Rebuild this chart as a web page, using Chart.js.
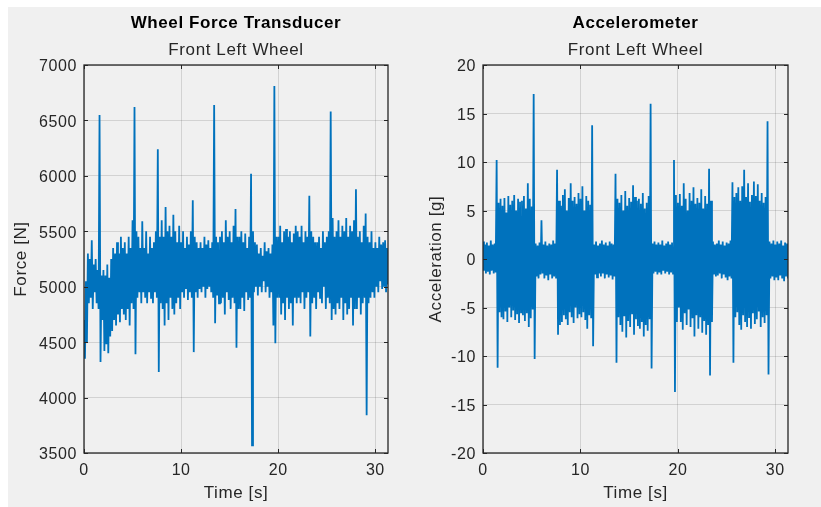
<!DOCTYPE html>
<html>
<head>
<meta charset="utf-8">
<script src="https://cdn.jsdelivr.net/npm/chart.js@4"></script>
<style>
  html, body { margin: 0; padding: 0; background: #ffffff; }
  #fig { position: absolute; left: 8px; top: 7px; width: 813px; height: 500px; background: #f0f0f0; }
  canvas { position: absolute; top: 0; }
</style>
</head>
<body>
<div id="fig"></div>
<canvas id="forceChart" width="410" height="507" style="left:0"></canvas>
<canvas id="accelChart" width="411" height="507" style="left:410px"></canvas>
<script>
// time axis (s) and tick labels
const timeMax = 31.3;
const timeTicks = [0, 10, 20, 30];
const forceTicks = [3500, 4000, 4500, 5000, 5500, 6000, 6500, 7000];
const accelTicks = [-20, -15, -10, -5, 0, 5, 10, 15, 20];

// signal: one high and one low value every 0.2 s
// high at t = 0.2*i, low at t = 0.2*i + 0.1
const forceHigh = [
  4700, 5050, 5300, 5250, 5420, 5200, 5250, 5150, 6550, 5100,
  5150, 5100, 5200, 5080, 5250, 5350, 5300, 5400, 5300, 5450,
  5350, 5400, 5300, 5450, 5350, 5600, 6620, 5500, 5450, 5350,
  5590, 5350, 5500, 5300, 5450, 5350, 5400, 5500, 6240, 5450,
  5600, 5450, 5720, 5500, 5550, 5450, 5650, 5500, 5400, 5550,
  5400, 5500, 5350, 5450, 5380, 5500, 5780, 5450, 5400, 5350,
  5400, 5350, 5450, 5380, 5420, 5350, 5400, 6640, 5450, 5400,
  5450, 5500, 5400, 5600, 5450, 5500, 5400, 5550, 5700, 5450,
  5450, 5500, 5400, 5480, 5350, 5450, 6020, 5500, 5400, 5380,
  5300, 5350, 5280, 5400, 5320, 5350, 5300, 5380, 6810, 5450,
  5450, 5550, 5400, 5500, 5520, 5450, 5500, 5400, 5480, 5550,
  5500, 5450, 5550, 5400, 5500, 5450, 5820, 5500, 5450, 5400,
  5400, 5450, 5350, 5500, 5400, 5450, 5500, 6580, 5620, 5450,
  5500, 5600, 5450, 5550, 5500, 5620, 5450, 5550, 5500, 5600,
  5880, 5450, 5500, 5400, 5550, 5660, 5450, 5400, 5500, 5350,
  5400, 5350, 5450, 5380, 5400, 5420, 5350
];
const forceLow = [
  4350, 4500, 4850, 4900, 4800, 4950, 4850, 4800, 4320, 4700,
  4420, 4480, 4400, 4550, 4600, 4700, 4650, 4750, 4680, 4800,
  4750, 4700, 4800, 4650, 4850, 4800, 4390, 4900, 4950, 4850,
  4950, 4900, 4850, 4950, 4900, 4850, 4950, 4900, 4230, 4850,
  4800, 4650, 4850, 4700, 4900, 4800, 4750, 4850, 4900, 4800,
  4950, 4900, 4980, 4880, 4950, 4900, 4410, 4950, 4900, 4980,
  4950, 5000, 4900, 4980, 5000, 4950, 4900, 4670, 4920, 4850,
  4850, 4900, 4750, 4950, 4880, 4800, 4900, 4850, 4450, 4800,
  4800, 4900, 4780, 4950, 4880, 4900, 3570, 4950, 5000, 4920,
  5000, 4950, 5050, 4950, 5000, 4900, 4950, 4650, 4490, 4900,
  4900, 4750, 4850, 4700, 4900, 4800, 4850, 4650, 4900, 4850,
  4900, 4850, 4950, 4800, 4900, 4950, 4550, 4850, 4900, 4800,
  4950, 4900, 4850, 5000, 4800, 4900, 4850, 4700, 4800, 4750,
  4850, 4800, 4900, 4700, 4850, 4750, 4800, 4900, 4650, 4800,
  4800, 4900, 4750, 4850, 4900, 3840, 4850, 4900, 4950, 4900,
  5000, 4950, 5050, 4980, 5000, 4950, 5020
];
const accelHigh = [
  1.8, 1.5, 1.7, 1.4, 1.9, 1.5, 1.6, 10.2, 5.8, 6.2,
  5.5, 6.3, 4.8, 6.5, 5.6, 6.0, 6.6, 5.0, 6.2, 5.9,
  6.0, 6.5, 5.2, 7.8, 6.2, 5.4, 17.0, 1.6, 1.4, 1.7,
  4.0, 1.5, 1.8, 1.4, 1.6, 1.5, 1.9, 1.6, 9.2, 6.0,
  5.5, 6.6, 7.2, 5.0, 6.3, 7.8, 6.0, 6.4, 5.7, 6.8,
  6.2, 7.5, 5.0, 6.5, 6.0, 5.6, 13.8, 1.5, 1.8, 1.4,
  1.6, 1.9, 1.5, 1.7, 1.4, 1.8, 1.6, 1.5, 8.8, 6.2,
  5.8, 6.6, 5.0, 7.0, 5.5, 6.3, 5.9, 7.6, 6.4, 6.0,
  6.2, 5.7, 6.8, 5.2, 5.8, 6.5, 16.0, 1.6, 1.8, 1.5,
  1.7, 1.5, 1.9, 1.4, 1.6, 1.8, 1.5, 1.7, 10.2, 6.6,
  5.8, 6.7, 5.5, 7.8, 6.2, 5.0, 6.8, 6.0, 7.4, 5.7,
  6.3, 5.8, 7.2, 5.2, 6.5, 5.7, 9.3, 6.0, 1.8, 1.5,
  1.6, 1.9, 1.5, 1.8, 1.4, 1.7, 1.6, 1.9, 7.9, 6.4,
  6.8, 7.4, 6.0, 7.5, 9.2, 6.4, 7.8, 5.9, 6.6, 8.0,
  6.5, 7.7, 6.0, 6.8, 5.8, 6.4, 14.2, 1.8, 1.6, 1.9,
  1.5, 1.8, 1.6, 1.9, 1.4, 1.7, 1.6
];
const accelLow = [
  -1.2, -1.5, -1.3, -1.6, -1.2, -1.5, -1.4, -11.2, -5.5, -6.0,
  -6.2, -5.4, -6.5, -5.0, -6.0, -5.3, -6.3, -5.7, -6.6, -5.5,
  -5.8, -6.4, -5.6, -7.0, -6.1, -5.2, -10.3, -1.8, -2.0, -1.6,
  -1.5, -2.0, -1.7, -2.2, -1.6, -2.0, -1.8, -2.0, -7.8, -6.8,
  -6.5, -5.8, -6.2, -6.8, -5.5, -6.0, -6.6, -5.0, -6.1, -5.7,
  -6.0, -5.5, -6.3, -7.2, -5.8, -6.1, -9.0, -1.6, -1.9, -1.5,
  -1.8, -1.5, -2.0, -1.6, -1.9, -1.7, -2.1, -1.8, -10.7, -6.0,
  -6.8, -7.5, -5.9, -8.1, -6.4, -7.0, -5.7, -7.8, -6.2, -6.9,
  -7.2, -6.5, -8.0, -6.8, -7.4, -6.2, -11.3, -1.5, -1.3, -1.6,
  -1.4, -1.6, -1.2, -1.5, -1.3, -1.6, -1.4, -1.5, -13.7, -6.5,
  -5.0, -6.5, -7.3, -5.6, -6.8, -5.2, -7.0, -6.1, -8.0, -5.8,
  -7.2, -6.0, -7.6, -6.4, -7.8, -6.8, -12.0, -6.5, -1.6, -1.8,
  -1.7, -1.5, -2.0, -1.6, -1.9, -2.2, -1.8, -2.0, -10.7, -6.0,
  -5.5, -6.8, -7.3, -5.8, -6.5, -7.0, -6.0, -7.2, -5.6, -6.7,
  -6.2, -5.4, -7.0, -6.0, -6.6, -5.8, -11.9, -2.0, -1.8, -2.2,
  -1.9, -2.2, -1.7, -2.0, -2.3, -1.8, -2.0
];

const sampleStep = 0.1;
const lineColor = '#0072BD';
const axisColor = '#262626';
const fontFamily = '"Liberation Sans", Arial, Helvetica, sans-serif';

// interleave high / low readings into one trace
function buildTrace(high, low) {
  let pts = [];
  for (let i = 0; i < high.length; i++) {
    pts.push({ x: 2 * i * sampleStep, y: high[i] });
    pts.push({ x: (2 * i + 1) * sampleStep, y: low[i] });
  }
  return pts;
}

// MATLAB style box, inward ticks and two-line title
const matlabAxes = {
  id: 'matlabAxes',
  beforeDraw(chart) {
    chart.ctx.letterSpacing = '0.6px';
  },
  afterDraw(chart) {
    const ctx = chart.ctx;
    const a = chart.chartArea;
    const xs = chart.scales.x, ys = chart.scales.y;
    ctx.save();
    ctx.strokeStyle = axisColor;
    ctx.lineWidth = 1;
    ctx.beginPath();
    xs.ticks.forEach(t => {
      const px = Math.round(xs.getPixelForValue(t.value)) + 0.5;
      ctx.moveTo(px, a.bottom); ctx.lineTo(px, a.bottom - 4);
      ctx.moveTo(px, a.top); ctx.lineTo(px, a.top + 4);
    });
    ys.ticks.forEach(t => {
      const py = Math.round(ys.getPixelForValue(t.value)) + 0.5;
      ctx.moveTo(a.left, py); ctx.lineTo(a.left + 4, py);
      ctx.moveTo(a.right, py); ctx.lineTo(a.right - 4, py);
    });
    ctx.stroke();
    ctx.lineWidth = 1.3;
    ctx.strokeRect(a.left, a.top, a.right - a.left, a.bottom - a.top);

    const cx = (a.left + a.right) / 2;
    const titles = chart.options.plugins.matlabAxes;
    ctx.letterSpacing = '0.6px';
    ctx.textAlign = 'center';
    ctx.textBaseline = 'alphabetic';
    ctx.fillStyle = '#000000';
    ctx.font = 'bold 17px ' + fontFamily;
    ctx.fillText(titles.title, cx, 28);
    ctx.fillStyle = axisColor;
    ctx.font = '17px ' + fontFamily;
    ctx.fillText(titles.subtitle, cx, 55);
    ctx.restore();
  }
};

function makeChart(id, high, low, yMin, yMax, yTickList, yTitle, title, axisW, padRight, yTitlePad) {
  const ctx = document.getElementById(id).getContext('2d');
  return new Chart(ctx, {
    type: 'line',
    data: {
      datasets: [{
        data: buildTrace(high, low),
        borderColor: lineColor,
        borderWidth: 1.8,
        pointRadius: 0,
        tension: 0,
        fill: false
      }]
    },
    options: {
      responsive: false,
      animation: false,
      layout: { padding: { top: 65, right: padRight, bottom: 0, left: 0 } },
      plugins: {
        legend: { display: false },
        tooltip: { enabled: false },
        matlabAxes: { title: title, subtitle: 'Front Left Wheel' }
      },
      scales: {
        x: {
          type: 'linear',
          min: 0,
          max: timeMax,
          afterFit(scale) { scale.height = 54; },
          afterBuildTicks(scale) { scale.ticks = timeTicks.map(v => ({ value: v })); },
          grid: { color: 'rgba(38,38,38,0.15)', drawTicks: false },
          border: { display: false },
          ticks: {
            color: axisColor, padding: 8,
            font: { family: fontFamily, size: 16 },
            maxRotation: 0,
            callback: v => String(v)
          },
          title: {
            display: true, text: 'Time [s]', color: axisColor,
            font: { family: fontFamily, size: 17 },
            padding: { top: 0, bottom: 3 }
          }
        },
        y: {
          type: 'linear',
          min: yMin,
          max: yMax,
          afterFit(scale) { scale.width = axisW; },
          afterBuildTicks(scale) { scale.ticks = yTickList.map(v => ({ value: v })); },
          grid: { color: 'rgba(38,38,38,0.15)', drawTicks: false },
          border: { display: false },
          ticks: {
            color: axisColor, padding: 7, labelOffset: 2,
            font: { family: fontFamily, size: 16 },
            callback: v => String(v)
          },
          title: {
            display: true, text: yTitle, color: axisColor,
            font: { family: fontFamily, size: 17 },
            padding: { top: yTitlePad, bottom: 0 }
          }
        }
      }
    },
    plugins: [matlabAxes]
  });
}

makeChart('forceChart', forceHigh, forceLow, 3500, 7000, forceTicks,
  'Force [N]', 'Wheel Force Transducer', 84, 22, 11);
makeChart('accelChart', accelHigh, accelLow, -20, 20, accelTicks,
  'Acceleration [g]', 'Accelerometer', 73, 33, 16);
</script>
</body>
</html>
